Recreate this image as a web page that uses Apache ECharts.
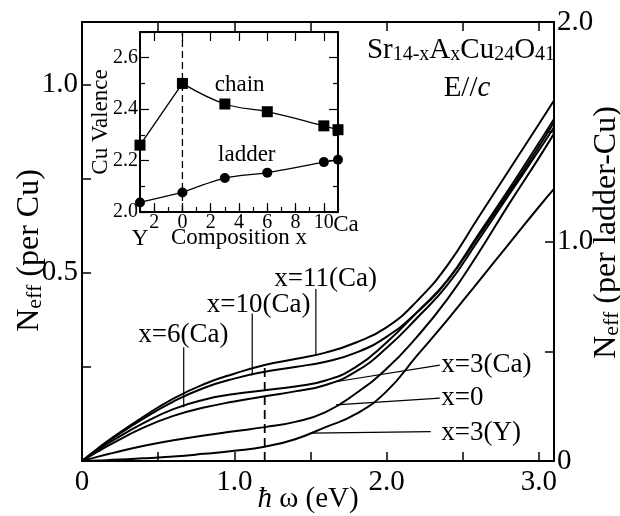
<!DOCTYPE html>
<html><head><meta charset="utf-8">
<script src="https://cdn.jsdelivr.net/npm/echarts@6/dist/echarts.min.js"></script>
<style>html,body{margin:0;padding:0;background:#fff}#c{width:620px;height:516px}</style>
</head><body><div id="c"></div>
<script>
// ---------- main panel data ----------
const energy = [0, 0.1, 0.2, 0.4, 0.6, 0.8, 1.0, 1.2, 1.4, 1.6, 1.8, 2.0, 2.2, 2.4, 2.6, 2.8, 3.0, 3.1];
const neffCa11 = [0, 0.032, 0.062, 0.117, 0.166, 0.204, 0.232, 0.255, 0.271, 0.288, 0.315, 0.355, 0.425, 0.52, 0.645, 0.77, 0.895, 0.958];
const neffCa10 = [0, 0.031, 0.060, 0.112, 0.158, 0.194, 0.219, 0.237, 0.250, 0.264, 0.288, 0.330, 0.395, 0.48, 0.600, 0.720, 0.845, 0.909];
const neffCa6  = [0, 0.028, 0.054, 0.100, 0.138, 0.163, 0.178, 0.188, 0.198, 0.214, 0.250, 0.315, 0.395, 0.48, 0.595, 0.712, 0.835, 0.900];
const neffCa3  = [0, 0.024, 0.047, 0.088, 0.120, 0.142, 0.158, 0.172, 0.185, 0.202, 0.238, 0.300, 0.380, 0.468, 0.585, 0.705, 0.825, 0.887];
const neffX0   = [0, 0.011, 0.021, 0.040, 0.055, 0.068, 0.079, 0.090, 0.104, 0.130, 0.180, 0.245, 0.330, 0.430, 0.550, 0.680, 0.805, 0.870];
const neffY3   = [0, 0.001, 0.003, 0.007, 0.012, 0.019, 0.027, 0.038, 0.058, 0.090, 0.125, 0.185, 0.280, 0.375, 0.475, 0.575, 0.675, 0.723];
const curveNames = ['x=11(Ca)', 'x=10(Ca)', 'x=6(Ca)', 'x=3(Ca)', 'x=0', 'x=3(Y)'];
const curveValues = [neffCa11, neffCa10, neffCa6, neffCa3, neffX0, neffY3];

// annotation labels [energy, Neff] and their pointer lines
const labelText = ['x=11(Ca)', 'x=10(Ca)', 'x=6(Ca)', 'x=3(Ca)', 'x=0', 'x=3(Y)'];
const labelPos = [[1.60, 0.485], [1.16, 0.416], [0.666, 0.334], [2.36, 0.255], [2.36, 0.167], [2.36, 0.074]];
const labelAnchor = ['center', 'center', 'center', 'left', 'left', 'left'];
const pointerLines = [
  [[1.536, 0.457], [1.536, 0.281]],
  [[1.118, 0.392], [1.118, 0.228]],
  [[0.668, 0.302], [0.668, 0.143]],
  [[2.35, 0.255], [1.655, 0.210]],
  [[2.35, 0.167], [1.668, 0.149]],
  [[2.29, 0.078], [1.503, 0.074]]
];
const dashedMain = [[1.2, 0], [1.2, 0.255]];

// axis ticks
const xTickLabels = ['0', '1.0', '2.0', '3.0'];
const yLeftLabels = ['0.5', '1.0'];
const yRightLabels = ['0', '1.0', '2.0'];

// ---------- inset data ----------
const composition = [-3, 0, 3, 6, 10, 11];
const chainValence = [2.26, 2.50, 2.42, 2.39, 2.335, 2.32];
const ladderValence = [2.037, 2.076, 2.132, 2.153, 2.194, 2.203];
const insetXTickLabels = [-2, 0, 2, 4, 6, 8, 10];
const insetEndLabels = ['Y', 'Ca'];
const insetYTickLabels = ['2.0', '2.2', '2.4', '2.6'];
const insetText = [['chain', 4.05, 2.495], ['ladder', 4.55, 2.222]];
const dashedInset = [[0, 2.0], [0, 2.7]];

const FONT = 'Liberation Serif';
const BLACK = '#000';
const pairs = (xs, ys) => xs.map((x, i) => [x, ys[i]]);

const chart = echarts.init(document.getElementById('c'), null, {renderer: 'canvas'});

const axisLineStyle = {show: true, onZero: false, lineStyle: {color: BLACK, width: 2}};
const mainTick = {show: true, inside: true, length: 9, lineStyle: {color: BLACK, width: 1.5}};
const nameRich = {
  m: {fontFamily: FONT, fontSize: 32, color: BLACK, lineHeight: 32},
  s: {fontFamily: FONT, fontSize: 22, color: BLACK, lineHeight: 12, verticalAlign: 'bottom'}
};

const series = [];
curveValues.forEach((vals, i) => {
  series.push({
    type: 'line', name: curveNames[i], xAxisIndex: 0, yAxisIndex: 0,
    data: pairs(energy, vals), showSymbol: false, smooth: 0.5,
    lineStyle: {color: BLACK, width: 2}, silent: true, z: 3
  });
});
series.push({
  type: 'line', xAxisIndex: 0, yAxisIndex: 0, data: dashedMain, showSymbol: false,
  lineStyle: {color: BLACK, width: 1.8, type: [9, 5]}, silent: true
});
pointerLines.forEach(seg => {
  series.push({
    type: 'line', xAxisIndex: 0, yAxisIndex: 0, data: seg, showSymbol: false,
    lineStyle: {color: BLACK, width: 1.2}, silent: true
  });
});
series.push({
  type: 'scatter', xAxisIndex: 0, yAxisIndex: 0, symbolSize: 0, silent: true,
  itemStyle: {opacity: 1},
  data: labelText.map((t, i) => ({
    name: t, value: labelPos[i],
    label: labelAnchor[i] === 'left'
      ? {position: 'right', distance: 0}
      : {position: 'inside'}
  })),
  label: {show: true, formatter: '{b}', fontFamily: FONT, fontSize: 27, color: BLACK, opacity: 1}
});

// inset series
series.push({
  type: 'line', xAxisIndex: 2, yAxisIndex: 2, data: dashedInset, showSymbol: false,
  lineStyle: {color: BLACK, width: 1.3, type: [7, 4]}, silent: true
});
series.push({
  type: 'line', xAxisIndex: 2, yAxisIndex: 2, showSymbol: false,
  data: pairs(composition.slice(0, 2), chainValence.slice(0, 2)),
  lineStyle: {color: BLACK, width: 1.3}, silent: true
});
series.push({
  type: 'line', xAxisIndex: 2, yAxisIndex: 2, showSymbol: false, smooth: 0.4,
  data: pairs(composition.slice(1), chainValence.slice(1)),
  lineStyle: {color: BLACK, width: 1.3}, silent: true
});
series.push({
  type: 'line', xAxisIndex: 2, yAxisIndex: 2, showSymbol: false,
  data: pairs(composition.slice(0, 2), ladderValence.slice(0, 2)),
  lineStyle: {color: BLACK, width: 1.3}, silent: true
});
series.push({
  type: 'line', xAxisIndex: 2, yAxisIndex: 2, showSymbol: false, smooth: 0.3,
  data: pairs(composition.slice(1), ladderValence.slice(1)),
  lineStyle: {color: BLACK, width: 1.3}, silent: true
});
series.push({
  type: 'scatter', xAxisIndex: 2, yAxisIndex: 2, symbol: 'rect', symbolSize: 11,
  data: pairs(composition, chainValence), itemStyle: {color: BLACK, opacity: 1}, silent: true, z: 5
});
series.push({
  type: 'scatter', xAxisIndex: 2, yAxisIndex: 2, symbol: 'circle', symbolSize: 10,
  data: pairs(composition, ladderValence), itemStyle: {color: BLACK, opacity: 1}, silent: true, z: 5
});
series.push({
  type: 'scatter', xAxisIndex: 2, yAxisIndex: 2, symbolSize: 0, silent: true,
  itemStyle: {opacity: 1},
  data: insetText.map(t => ({name: t[0], value: [t[1], t[2]]})),
  label: {show: true, position: 'inside', formatter: '{b}', fontFamily: FONT, fontSize: 23, color: BLACK, opacity: 1}
});

const option = {
  backgroundColor: '#fff',
  animation: false,
  grid: [
    {left: 82, right: 66, top: 22, bottom: 55, containLabel: false, outerBoundsMode: 'none'},
    {left: 140, top: 32, width: 198, height: 180, show: true, backgroundColor: '#fff', borderWidth: 0, outerBoundsMode: 'none'}
  ],
  xAxis: [
    {
      type: 'value', gridIndex: 0, position: 'bottom', min: 0, max: 3.1, interval: 0.5,
      axisLine: axisLineStyle, axisTick: mainTick, splitLine: {show: false},
      axisLabel: {
        fontFamily: FONT, fontSize: 29, color: BLACK, margin: 7,
        customValues: [0, 1, 2, 3],
        formatter: v => xTickLabels[Math.round(v)]
      },
      name: '{i|ħ}{m| ω (eV)}', nameLocation: 'middle', nameGap: 24, nameMoveOverlap: false,
      nameTextStyle: {padding: [0, 20, 0, 0], rich: {
        i: {fontFamily: FONT, fontSize: 29, color: BLACK, fontStyle: 'italic'},
        m: {fontFamily: FONT, fontSize: 29, color: BLACK}
      }}
    },
    {
      type: 'value', gridIndex: 0, position: 'top', min: 0, max: 3.1, interval: 0.5,
      axisLine: axisLineStyle, axisTick: mainTick, axisLabel: {show: false}, splitLine: {show: false}
    },
    {
      type: 'value', gridIndex: 1, position: 'bottom', min: -3, max: 11, interval: 1,
      axisLine: axisLineStyle, splitLine: {show: false},
      axisTick: {show: true, inside: true, length: 5, lineStyle: {color: BLACK, width: 1.2}},
      axisLabel: {
        show: true, margin: 1, fontFamily: FONT, fontSize: 20, color: BLACK, hideOverlap: false,
        customValues: insetXTickLabels,
        formatter: v => String(Math.abs(v))
      },
      name: 'Composition x', nameLocation: 'middle', nameGap: 14, nameMoveOverlap: false,
      nameTextStyle: {fontFamily: FONT, fontSize: 23, color: BLACK}
    },
    {
      type: 'value', gridIndex: 1, position: 'bottom', min: -3, max: 11, interval: 1,
      axisLine: {show: false, onZero: false}, splitLine: {show: false},
      axisLabel: {
        show: true, margin: 1, hideOverlap: false, showMinLabel: true, showMaxLabel: true,
        customValues: [-3, 11],
        formatter: v => v < 0 ? '{y|' + insetEndLabels[0] + '}' : '{ca|' + insetEndLabels[1] + '}',
        rich: {
          y: {fontFamily: FONT, fontSize: 23, color: BLACK, padding: [14, 0, 0, 0]},
          ca: {fontFamily: FONT, fontSize: 23, color: BLACK, padding: [0, 0, 0, 16]}
        }
      },
      axisTick: {show: true, inside: true, length: 9, customValues: insetXTickLabels, lineStyle: {color: BLACK, width: 1.2}}
    },
    {
      type: 'value', gridIndex: 1, position: 'top', min: -3, max: 11, interval: 1,
      axisLine: axisLineStyle, splitLine: {show: false}, axisLabel: {show: false},
      axisTick: {show: true, inside: true, length: 9, customValues: insetXTickLabels, lineStyle: {color: BLACK, width: 1.2}}
    }
  ],
  yAxis: [
    {
      type: 'value', gridIndex: 0, position: 'left', min: 0, max: 2 * 14 / 24, interval: 0.25,
      axisLine: axisLineStyle, axisTick: mainTick, splitLine: {show: false},
      axisLabel: {
        fontFamily: FONT, fontSize: 29, color: BLACK, margin: 4,
        customValues: [0.5, 1.0],
        formatter: v => yLeftLabels[Math.round(v * 2) - 1]
      },
      name: '{m|N}{s|eff}{m| (per Cu)}', nameLocation: 'middle', nameGap: 36, nameRotate: 90, nameMoveOverlap: false,
      nameTextStyle: {padding: [0, 18, 0, 0], rich: nameRich}
    },
    {
      type: 'value', gridIndex: 0, position: 'right', min: 0, max: 2, interval: 0.5,
      axisLine: axisLineStyle, axisTick: mainTick, splitLine: {show: false},
      axisLabel: {
        fontFamily: FONT, fontSize: 29, color: BLACK, margin: 3,
        customValues: [0, 1, 2],
        formatter: v => yRightLabels[Math.round(v)]
      },
      name: '{m|N}{s|eff}{m| (per ladder-Cu)}', nameLocation: 'middle', nameGap: 37, nameRotate: 90, nameMoveOverlap: false,
      nameTextStyle: {padding: [0, 0, 0, 18], rich: nameRich}
    },
    {
      type: 'value', gridIndex: 1, position: 'left', min: 2.0, max: 2.7, interval: 0.2,
      axisLine: axisLineStyle, splitLine: {show: false},
      axisTick: {show: true, inside: true, length: 9, lineStyle: {color: BLACK, width: 1.2}},
      minorTick: {show: true, splitNumber: 2, length: 5, lineStyle: {color: BLACK, width: 1.2}},
      axisLabel: {
        fontFamily: FONT, fontSize: 20, color: BLACK, margin: 2,
        customValues: [2.0, 2.2, 2.4, 2.6],
        formatter: v => insetYTickLabels[Math.round((v - 2) * 5)]
      },
      name: 'Cu Valence', nameLocation: 'middle', nameGap: 28, nameRotate: 90, nameMoveOverlap: false,
      nameTextStyle: {fontFamily: FONT, fontSize: 23, color: BLACK}
    },
    {
      type: 'value', gridIndex: 1, position: 'right', min: 2.0, max: 2.7, interval: 0.2,
      axisLine: axisLineStyle, splitLine: {show: false}, axisLabel: {show: false},
      axisTick: {show: true, inside: true, length: 9, lineStyle: {color: BLACK, width: 1.2}},
      minorTick: {show: true, splitNumber: 2, length: 5, lineStyle: {color: BLACK, width: 1.2}}
    }
  ],
  graphic: [
    {
      type: 'text', x: 461, y: 50, z: 20,
      style: {
        text: '{m|Sr}{s|14-x}{m|A}{s|x}{m|Cu}{s|24}{m|O}{s|41}',
        align: 'center', verticalAlign: 'middle',
        rich: {
          m: {fontFamily: FONT, fontSize: 29, fill: BLACK, lineHeight: 30},
          s: {fontFamily: FONT, fontSize: 20, fill: BLACK, lineHeight: 12, verticalAlign: 'bottom'}
        }
      }
    },
    {
      type: 'text', x: 467, y: 88, z: 20,
      style: {
        text: '{m|E//}{i|c}', align: 'center', verticalAlign: 'middle',
        rich: {
          m: {fontFamily: FONT, fontSize: 29, fill: BLACK},
          i: {fontFamily: FONT, fontSize: 29, fill: BLACK, fontStyle: 'italic'}
        }
      }
    }
  ],
  series: series
};
chart.setOption(option);
</script>
</body></html>
